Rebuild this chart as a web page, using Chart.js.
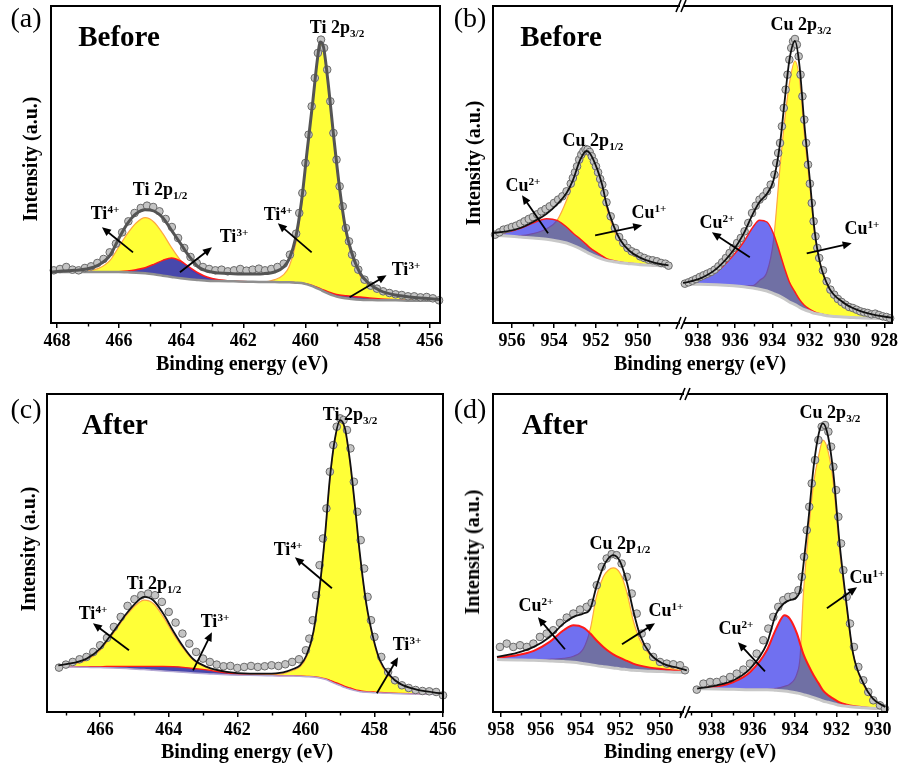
<!DOCTYPE html>
<html>
<head>
<meta charset="utf-8">
<script src="https://cdn.jsdelivr.net/npm/chart.js@4.4.1/dist/chart.umd.min.js"></script>
<style>
  html, body { margin:0; padding:0; background:#fff; }
  body { width:907px; height:769px; position:relative; overflow:hidden; }
  canvas { position:absolute; }
  .t { position:absolute; transform:translate(-50%,-50%); line-height:1; white-space:nowrap;
       font-family:'Liberation Serif','Times New Roman',serif; font-weight:bold; color:#000; font-size:18px; }
  .t sub, .t sup { font-size:0.62em; position:relative; vertical-align:baseline; }
  .t sub { top:0.32em; }
  .t sup { top:-0.5em; }
  .pl { font-weight:normal; font-size:28px; }
  .st { font-size:29px; }
  .ax { font-size:20px; }
  .rot { transform:translate(-50%,-50%) rotate(-90deg); }
</style>
</head>
<body>
<canvas id="ca"></canvas>
<canvas id="cbl"></canvas>
<canvas id="cbr"></canvas>
<canvas id="cc"></canvas>
<canvas id="cdl"></canvas>
<canvas id="cdr"></canvas>

<!-- panel (a) -->
<div class="t pl" style="left:26px;top:18px">(a)</div>
<div class="t st" style="left:119px;top:36px">Before</div>
<div class="t" style="left:337px;top:27px">Ti 2p<sub>3/2</sub></div>
<div class="t" style="left:160px;top:189px">Ti 2p<sub>1/2</sub></div>
<div class="t" style="left:105px;top:213px">Ti<sup>4+</sup></div>
<div class="t" style="left:234px;top:236px">Ti<sup>3+</sup></div>
<div class="t" style="left:278px;top:214px">Ti<sup>4+</sup></div>
<div class="t" style="left:406px;top:269px">Ti<sup>3+</sup></div>
<div class="t ax rot" style="left:30px;top:159px">Intensity (a.u.)</div>
<div class="t ax" style="left:242px;top:363px">Binding energy (eV)</div>

<!-- panel (b) -->
<div class="t pl" style="left:470px;top:18px">(b)</div>
<div class="t st" style="left:561px;top:36px">Before</div>
<div class="t" style="left:801px;top:24px">Cu 2p<sub>3/2</sub></div>
<div class="t" style="left:593px;top:140px">Cu 2p<sub>1/2</sub></div>
<div class="t" style="left:523px;top:185px">Cu<sup>2+</sup></div>
<div class="t" style="left:649px;top:212px">Cu<sup>1+</sup></div>
<div class="t" style="left:717px;top:222px">Cu<sup>2+</sup></div>
<div class="t" style="left:862px;top:228px">Cu<sup>1+</sup></div>
<div class="t ax rot" style="left:473px;top:163px">Intensity (a.u.)</div>
<div class="t ax" style="left:700px;top:363px">Binding energy (eV)</div>

<!-- panel (c) -->
<div class="t pl" style="left:26px;top:409px">(c)</div>
<div class="t st" style="left:115px;top:424px">After</div>
<div class="t" style="left:350px;top:414px">Ti 2p<sub>3/2</sub></div>
<div class="t" style="left:154px;top:583px">Ti 2p<sub>1/2</sub></div>
<div class="t" style="left:93px;top:613px">Ti<sup>4+</sup></div>
<div class="t" style="left:215px;top:621px">Ti<sup>3+</sup></div>
<div class="t" style="left:288px;top:549px">Ti<sup>4+</sup></div>
<div class="t" style="left:407px;top:644px">Ti<sup>3+</sup></div>
<div class="t ax rot" style="left:28px;top:549px">Intensity (a.u.)</div>
<div class="t ax" style="left:247px;top:751px">Binding energy (eV)</div>

<!-- panel (d) -->
<div class="t pl" style="left:470px;top:409px">(d)</div>
<div class="t st" style="left:555px;top:424px">After</div>
<div class="t" style="left:830px;top:412px">Cu 2p<sub>3/2</sub></div>
<div class="t" style="left:620px;top:543px">Cu 2p<sub>1/2</sub></div>
<div class="t" style="left:536px;top:605px">Cu<sup>2+</sup></div>
<div class="t" style="left:666px;top:610px">Cu<sup>1+</sup></div>
<div class="t" style="left:736px;top:628px">Cu<sup>2+</sup></div>
<div class="t" style="left:867px;top:577px">Cu<sup>1+</sup></div>
<div class="t ax rot" style="left:472px;top:552px">Intensity (a.u.)</div>
<div class="t ax" style="left:690px;top:751px">Binding energy (eV)</div>

<script>
// ---------------- DATA (binding energy in eV, intensity in a.u.) ----------------
// (a) Ti 2p, before — fitted curves
const aEnergy = [468.19,467.82,467.43,467.05,466.68,466.29,466.01,465.73,465.45,465.16,464.88,464.59,464.31,464.02,463.74,463.45,463.17,462.79,462.32,461.85,461.36,460.99,460.70,460.52,460.32,460.13,459.95,459.76,459.62,459.52,459.42,459.28,459.09,458.90,458.72,458.52,458.23,457.95,457.57,457.10,456.63,456.15,455.67];
const aBackground = [153,153,153,153,153,153,153,152,151,149,146,142,138,134,131,129,127,126,125,124,123,123,122,122,121,120,116,110,104,100,95,89,82,77,74,72,70,69,68,68,67,67,66];
const aTi4 = [153,153,154,157,163,188,228,268,300,316,303,268,226,188,163,146,135,129,126,124,123,130,145,170,235,350,512,666,785,840,824,723,552,396,280,205,140,112,92,82,77,74,70];
const aTi3 = [153,153,153,153,153,153,154,156,160,166,176,188,195,186,168,150,138,130,126,124,123,123,122,122,121,120,117,112,107,103,99,94,88,84,82,80,78,75,72,70,68,67,66];
const aEnvelope = [153,156,158,162,173,203,253,298,328,340,336,316,278,238,200,168,156,150,148,147,148,153,168,193,253,363,513,668,788,843,828,728,558,403,288,213,148,118,96,84,78,74,70];
// (a) measured points
const aRawEnergy = [468.1,467.9,467.7,467.5,467.3,467.1,466.9,466.7,466.5,466.3,466.1,465.9,465.7,465.5,465.3,465.1,464.9,464.7,464.5,464.3,464.1,463.9,463.7,463.5,463.3,463.1,462.9,462.7,462.5,462.3,462.1,461.9,461.7,461.5,461.3,461.1,460.9,460.7,460.5,460.3,460.2,460.1,460.0,459.9,459.8,459.7,459.6,459.5,459.4,459.3,459.2,459.1,459.0,458.9,458.8,458.7,458.6,458.5,458.4,458.3,458.1,457.9,457.7,457.5,457.3,457.1,456.9,456.7,456.5,456.3,456.1,455.9,455.7];
const aRaw = [158,162,168,160,158,165,170,180,192,212,238,272,305,330,345,352,348,335,312,288,255,225,198,180,168,162,158,160,155,158,162,157,160,163,158,162,168,178,205,268,330,390,480,565,650,735,810,850,825,760,665,570,490,410,350,285,245,205,180,160,130,112,103,95,90,86,84,80,80,77,78,74,68];
const aTicks = [468,466,464,462,460,458,456];
const aMinorTicks = [467,465,463,461,459,457];

// (b) Cu 2p, before: 2p1/2 segment
const bLEnergy = [956.9,956.25,955.6,955.0,954.35,953.85,953.4,953.1,952.75,952.45,952.3,951.95,951.7,951.5,951.15,950.85,950.4,949.9,949.4,948.95,948.55];
const bLBackground = [263,261,258,255,251,246,240,233,223,213,208,198,192,188,184,181,178,175,173,172,171];
const bLCu1 = [263,262,262,268,283,308,368,423,478,506,498,453,403,348,278,240,210,193,183,176,172];
const bLCu2 = [265,272,284,300,313,308,288,270,252,235,226,211,201,193,187,183,179,176,173,172,171];
const bLEnvelope = [270,275,285,303,328,356,390,428,490,516,510,463,413,356,290,250,216,196,184,177,173];
const bLRawEnergy = [956.8,956.6,956.4,956.2,956.0,955.8,955.6,955.4,955.2,955.0,954.8,954.6,954.4,954.2,954.0,953.8,953.6,953.4,953.2,953.1,953.0,952.9,952.8,952.7,952.6,952.5,952.4,952.3,952.2,952.1,952.0,951.9,951.8,951.7,951.6,951.5,951.3,951.1,950.9,950.7,950.5,950.3,950.1,949.9,949.7,949.5,949.3,949.1,948.9,948.7,948.55];
const bLRaw = [265,272,280,283,288,292,298,305,312,318,326,335,342,350,360,370,380,395,418,435,452,470,490,505,515,522,520,513,500,485,470,452,432,415,390,362,320,285,258,240,225,215,210,200,195,190,188,185,180,178,172];
const bLTicks = [956,954,952,950];
const bLMinorTicks = [955,953,951,949];
// (b) 2p3/2 segment
const bREnergy = [938.8,937.9,937.0,936.1,935.55,935.05,934.7,934.3,933.95,933.6,933.35,933.1,932.8,932.55,932.3,932.0,931.75,931.45,930.95,930.25,929.5,928.6,927.65];
const bRBackground = [116,116,115,112,109,105,101,96,88,80,72,63,55,47,40,34,29,26,21,18,16,14,13];
const bRCu1 = [116,116,116,113,111,112,128,153,248,468,608,718,786,728,568,408,268,178,108,63,38,23,15];
const bRCu2 = [118,130,153,203,243,288,308,303,268,208,163,123,93,70,53,41,33,28,22,18,16,14,13];
const bREnvelope = [120,133,163,218,268,328,363,388,428,538,668,788,846,768,598,428,278,178,103,63,40,25,16];
const bRRawEnergy = [938.7,938.5,938.3,938.1,937.9,937.7,937.5,937.3,937.1,936.9,936.7,936.5,936.3,936.1,935.9,935.7,935.5,935.3,935.1,934.9,934.7,934.5,934.3,934.1,933.9,933.8,933.7,933.6,933.5,933.4,933.3,933.2,933.1,933.0,932.9,932.8,932.7,932.6,932.5,932.4,932.3,932.2,932.1,932.0,931.9,931.8,931.7,931.6,931.5,931.3,931.1,930.9,930.7,930.5,930.3,930.1,929.9,929.7,929.5,929.3,929.1,928.9,928.7,928.5,928.3,928.1,927.9,927.7];
const bRRaw = [118,122,127,132,138,143,148,153,160,170,182,195,210,225,240,255,275,300,330,352,370,380,395,415,445,480,510,540,590,645,700,745,790,825,845,852,835,800,745,680,610,540,475,418,360,305,260,225,195,158,125,100,85,72,63,55,48,45,40,35,32,30,26,28,24,20,18,14];
const bRTicks = [938,936,934,932,930,928];
const bRMinorTicks = [937,935,933,931,929];

// (c) Ti 2p, after
const cEnergy = [467.22,466.78,466.39,466.0,465.62,465.23,464.93,464.72,464.45,464.16,463.87,463.57,463.28,462.89,462.31,461.63,461.14,460.66,460.37,460.17,459.98,459.78,459.59,459.44,459.30,459.15,459.0,458.86,458.71,458.57,458.42,458.23,458.03,457.84,457.55,457.26,456.77,456.28,456.0];
const cBackground = [135,135,134,133,132,130,128,127,125,123,121,119,117,115,112,110,109,108,108,107,106,105,102,98,92,85,79,73,68,64,61,59,58,57,56,55,54,53,53];
const cTi4 = [138,143,155,185,235,290,323,335,325,285,235,190,155,133,118,112,111,115,125,135,165,235,375,525,695,815,870,845,745,615,465,315,215,150,105,83,65,57,55];
const cTi3 = [136,136,136,136,137,137,137,137,137,137,136,134,131,126,117,111,110,109,109,108,107,106,103,100,95,89,83,77,72,67,64,61,60,59,57,56,55,54,54];
const cEnvelope = [140,147,160,190,240,295,330,345,335,295,243,195,158,135,120,115,115,119,129,140,170,240,380,530,700,820,875,850,750,620,470,320,220,155,110,85,67,59,55];
const cRawEnergy = [467.2,467.0,466.8,466.6,466.4,466.2,466.0,465.8,465.6,465.4,465.2,465.0,464.8,464.6,464.4,464.2,464.0,463.8,463.6,463.4,463.2,463.0,462.8,462.6,462.4,462.2,462.0,461.8,461.6,461.4,461.2,461.0,460.8,460.6,460.4,460.2,460.0,459.9,459.8,459.7,459.6,459.5,459.4,459.3,459.2,459.1,459.0,458.9,458.8,458.7,458.6,458.5,458.4,458.3,458.2,458.1,458.0,457.8,457.6,457.4,457.2,457.0,456.8,456.6,456.4,456.2,456.0];
const cRaw = [133,142,150,158,165,180,200,222,255,285,318,338,350,355,350,330,300,268,235,205,180,160,150,142,137,138,132,135,138,135,137,140,138,143,150,158,185,220,275,350,440,520,610,720,800,855,880,875,845,790,690,600,515,430,345,275,225,165,120,95,80,72,66,63,62,60,50];
const cTicks = [466,464,462,460,458,456];
const cMinorTicks = [467,465,463,461,459,457];

// (d) Cu 2p, after: 2p1/2 segment
const dLEnergy = [958.2,957.2,956.35,955.55,954.85,954.35,953.85,953.5,953.2,952.85,952.6,952.35,952.0,951.65,951.35,951.0,950.5,949.85,949.15,948.65];
const dLBackground = [157,156,155,153,151,149,145,142,139,136,134,132,129,127,125,124,122,121,119,118];
const dLCu1 = [157,157,157,158,161,167,190,250,345,405,425,432,415,355,275,215,170,140,127,121];
const dLCu2 = [163,170,183,210,245,260,253,235,215,195,183,173,162,153,145,139,133,128,123,119];
const dLEnvelope = [165,177,195,225,265,285,295,310,375,435,460,470,450,385,305,230,175,145,133,125];
const dLRawEnergy = [958.05,957.71,957.38,957.04,956.70,956.37,956.04,955.70,955.37,955.03,954.69,954.36,954.02,953.69,953.44,953.18,952.93,952.68,952.43,952.18,951.93,951.67,951.42,951.17,950.92,950.67,950.34,950.0,949.66,949.33,948.99,948.74];
const dLRaw = [195,205,195,200,195,205,225,235,245,267,283,295,307,315,327,380,435,460,473,470,445,405,355,295,235,195,165,150,145,143,140,125];
const dLTicks = [958,956,954,952,950];
const dLMinorTicks = [957,955,953,951,949];
// (d) 2p3/2 segment
const dREnergy = [938.7,937.75,936.95,936.15,935.35,934.9,934.5,934.25,933.9,933.75,933.6,933.35,933.1,932.85,932.65,932.4,932.15,931.85,931.5,931.2,930.7,930.25,929.65];
const dRBackground = [70,69,68,67,67,65,63,61,57,55,52,48,43,38,33,29,25,20,17,15,13,11,10];
const dRCu1 = [70,69,69,69,69,71,77,83,115,165,345,535,685,770,815,780,685,485,305,175,80,37,15];
const dRCu2 = [70,77,90,120,185,250,290,280,235,205,175,140,110,85,65,50,40,29,22,18,14,11,10];
const dREnvelope = [70,80,95,130,205,295,327,335,345,365,435,575,735,835,865,825,715,505,315,175,85,40,15];
const dRRawEnergy = [938.72,938.40,938.08,937.76,937.44,937.12,936.80,936.48,936.16,935.84,935.52,935.28,935.04,934.80,934.56,934.32,934.08,933.83,933.67,933.56,933.43,933.31,933.19,933.03,932.87,932.71,932.55,932.39,932.26,932.15,932.02,931.91,931.78,931.67,931.51,931.35,931.16,930.95,930.71,930.47,930.23,929.91,929.67];
const dRRaw = [67,85,90,90,97,105,115,127,145,175,215,250,285,315,335,345,347,365,405,465,545,615,685,755,815,855,860,840,795,735,665,585,505,425,345,265,195,135,95,60,35,20,10];
const dRTicks = [938,936,934,932,930];
const dRMinorTicks = [939,937,935,933,931];

// annotation arrows [fromE, fromI, toE, toI]
const aArrows = [[465.55,212,466.55,287],[464.04,152,463.01,227],[459.80,212,460.89,299],[458.58,77,457.39,143]];
const bLArrows = [[954.28,269,955.52,383],[952.04,263,949.80,293]];
const bRArrows = [[935.22,197,937.25,272],[932.17,209,929.76,239]];
const cArrows = [[465.16,185,466.21,266],[463.29,125,462.74,239],[459.24,371,460.32,464],[457.93,56,457.31,164]];
const dLArrows = [[954.78,188,956.14,284],[951.91,203,950.25,266]];
const dRArrows = [[935.44,122,936.74,209],[932.46,311,931.01,374]];

// ---------------- RENDERING ----------------
const FONT = "'Liberation Serif','Times New Roman',serif";
const YELLOW = 'rgba(255,255,40,0.93)';
const BLUE_CU = 'rgba(25,25,230,0.62)';
const BLUE_TI = 'rgba(20,20,205,0.78)';

function decoPlugin(cfg) {
  return {
    id: 'deco',
    afterDraw(chart) {
      const { ctx, chartArea: ca, scales } = chart;
      const x = scales.x, y = scales.y;
      ctx.save();
      ctx.strokeStyle = '#000'; ctx.lineWidth = 2; ctx.lineCap = 'square';
      ctx.beginPath();
      if (cfg.sides.includes('t')) { ctx.moveTo(ca.left, ca.top); ctx.lineTo(ca.right, ca.top); }
      if (cfg.sides.includes('b')) { ctx.moveTo(ca.left, ca.bottom); ctx.lineTo(ca.right, ca.bottom); }
      if (cfg.sides.includes('l')) { ctx.moveTo(ca.left, ca.top); ctx.lineTo(ca.left, ca.bottom); }
      if (cfg.sides.includes('r')) { ctx.moveTo(ca.right, ca.top); ctx.lineTo(ca.right, ca.bottom); }
      ctx.stroke();
      ctx.lineWidth = 1.4; ctx.lineCap = 'butt';
      ctx.beginPath();
      cfg.minors.forEach(v => {
        const px = Math.round(x.getPixelForValue(v)) + 0.5;
        ctx.moveTo(px, ca.bottom); ctx.lineTo(px, ca.bottom + 3.5);
      });
      ctx.stroke();
      ctx.fillStyle = '#000'; ctx.strokeStyle = '#000'; ctx.lineWidth = 1.8;
      cfg.arrows.forEach(a => {
        const x0 = x.getPixelForValue(a[0]), y0 = y.getPixelForValue(a[1]);
        const x1 = x.getPixelForValue(a[2]), y1 = y.getPixelForValue(a[3]);
        const ang = Math.atan2(y1 - y0, x1 - x0), L = 9, W = 4;
        const c = Math.cos(ang), s = Math.sin(ang);
        ctx.beginPath(); ctx.moveTo(x0, y0); ctx.lineTo(x1 - L * 0.7 * c, y1 - L * 0.7 * s); ctx.stroke();
        ctx.beginPath();
        ctx.moveTo(x1, y1);
        ctx.lineTo(x1 - L * c + W * s, y1 - L * s - W * c);
        ctx.lineTo(x1 - L * c - W * s, y1 - L * s + W * c);
        ctx.closePath(); ctx.fill();
      });
      if (cfg.breakMark) {
        const bx = ca.left;
        [ca.top, ca.bottom].forEach(yy => {
          ctx.fillStyle = '#fff';
          ctx.fillRect(bx - 3, yy - 1.6, 3.5, 3.2);
          ctx.strokeStyle = '#000'; ctx.lineWidth = 1.6;
          ctx.beginPath();
          ctx.moveTo(bx - 7, yy + 6); ctx.lineTo(bx - 2, yy - 6);
          ctx.moveTo(bx - 2, yy + 6); ctx.lineTo(bx + 3, yy - 6);
          ctx.stroke();
        });
      }
      ctx.restore();
    }
  };
}

function makePanel(p) {
  const cv = document.getElementById(p.id);
  const [l, t, r, b] = p.box;
  const PADX = 20, PADT = 10, AXH = 34;
  const w = r - l + 2 * PADX, h = b - t + PADT + AXH;
  cv.width = w; cv.height = h;
  cv.style.left = (l - PADX) + 'px'; cv.style.top = (t - PADT) + 'px';
  cv.style.width = w + 'px'; cv.style.height = h + 'px';
  const pts = ys => p.energy.map((e, i) => ({ x: e, y: ys[i] }));
  const rawPts = p.rawEnergy.map((e, i) => ({ x: e, y: p.raw[i] }));
  const datasets = [
    { label: 'Background', data: pts(p.bg), borderColor: p.bgColor, borderWidth: p.bgWidth, pointRadius: 0, fill: false, order: 3 },
    { label: p.n1, data: pts(p.c1), borderColor: '#ffa640', borderWidth: 1.2, backgroundColor: YELLOW, fill: { target: 0 }, pointRadius: 0, order: 5 },
    { label: p.n2, data: pts(p.c2), borderColor: '#ff1a1a', borderWidth: p.redWidth, backgroundColor: p.blue, fill: { target: 0 }, pointRadius: 0, order: 4 },
    { label: 'Raw data', data: rawPts, showLine: false, pointRadius: 3.8, pointBackgroundColor: '#c4c4c4', pointBorderColor: '#6a6a6a', pointBorderWidth: 1, order: 2, clip: 6 },
    { label: 'Fitted', data: pts(p.env), borderColor: p.envColor, borderWidth: p.envWidth, pointRadius: 0, fill: false, order: 1 }
  ];
  return new Chart(cv, {
    type: 'line',
    data: { datasets },
    options: {
      responsive: false, animation: false, devicePixelRatio: 1,
      layout: { padding: { left: PADX, right: PADX, top: PADT, bottom: 0 } },
      elements: { line: { cubicInterpolationMode: 'monotone' } },
      plugins: { legend: { display: false }, tooltip: { enabled: false } },
      scales: {
        x: {
          type: 'linear', reverse: true, min: p.range[0], max: p.range[1],
          afterBuildTicks: s => { s.ticks = p.majors.map(v => ({ value: v })); },
          afterFit: s => { s.height = AXH; },
          ticks: { callback: v => String(v), color: '#000', padding: 3, maxRotation: 0, autoSkip: false,
                   font: { family: FONT, size: 18, weight: 'bold' } },
          grid: { drawOnChartArea: false, drawTicks: true, tickLength: 5, color: '#000', lineWidth: 1.5 },
          border: { display: false }
        },
        y: { display: false, min: 0, max: p.ymax }
      }
    },
    plugins: [decoPlugin({ sides: p.sides, minors: p.minors, arrows: p.arrows, breakMark: p.breakMark })]
  });
}

const TI = { n1: 'Ti4+', n2: 'Ti3+' }, CU = { n1: 'Cu1+', n2: 'Cu2+' };
const panels = [
  Object.assign({ id: 'ca', box: [51, 6, 440, 323], range: [455.67, 468.19], ymax: 951, majors: aTicks, minors: aMinorTicks,
    energy: aEnergy, bg: aBackground, c1: aTi4, c2: aTi3, env: aEnvelope, rawEnergy: aRawEnergy, raw: aRaw, arrows: aArrows, sides: 'ltrb',
    envColor: '#545454', envWidth: 3, bgColor: '#8f8f8f', bgWidth: 2.5, redWidth: 1.5, blue: BLUE_TI }, TI),
  Object.assign({ id: 'cbl', box: [493, 6, 683, 323], range: [947.86, 956.9], ymax: 951, majors: bLTicks, minors: bLMinorTicks,
    energy: bLEnergy, bg: bLBackground, c1: bLCu1, c2: bLCu2, env: bLEnvelope, rawEnergy: bLRawEnergy, raw: bLRaw, arrows: bLArrows, sides: 'ltb',
    envColor: '#111', envWidth: 1.8, bgColor: '#c8c8c8', bgWidth: 3, redWidth: 1.5, blue: BLUE_CU }, CU),
  Object.assign({ id: 'cbr', box: [683, 6, 892, 323], range: [927.6, 938.8], ymax: 951, majors: bRTicks, minors: bRMinorTicks,
    energy: bREnergy, bg: bRBackground, c1: bRCu1, c2: bRCu2, env: bREnvelope, rawEnergy: bRRawEnergy, raw: bRRaw, arrows: bRArrows, sides: 'trb', breakMark: true,
    envColor: '#111', envWidth: 1.8, bgColor: '#c8c8c8', bgWidth: 3, redWidth: 1.5, blue: BLUE_CU }, CU),
  Object.assign({ id: 'cc', box: [47, 394, 443, 712], range: [456.0, 467.55], ymax: 953, majors: cTicks, minors: cMinorTicks,
    energy: cEnergy, bg: cBackground, c1: cTi4, c2: cTi3, env: cEnvelope, rawEnergy: cRawEnergy, raw: cRaw, arrows: cArrows, sides: 'ltrb',
    envColor: '#111', envWidth: 1.8, bgColor: '#b4a8d4', bgWidth: 1.5, redWidth: 1.3, blue: BLUE_TI }, TI),
  Object.assign({ id: 'cdl', box: [493, 394, 687, 712], range: [948.64, 958.4], ymax: 953, majors: dLTicks, minors: dLMinorTicks,
    energy: dLEnergy, bg: dLBackground, c1: dLCu1, c2: dLCu2, env: dLEnvelope, rawEnergy: dLRawEnergy, raw: dLRaw, arrows: dLArrows, sides: 'ltb',
    envColor: '#111', envWidth: 1.8, bgColor: '#c8c8c8', bgWidth: 3, redWidth: 2, blue: BLUE_CU }, CU),
  Object.assign({ id: 'cdr', box: [687, 394, 887, 712], range: [929.57, 939.19], ymax: 953, majors: dRTicks, minors: dRMinorTicks,
    energy: dREnergy, bg: dRBackground, c1: dRCu1, c2: dRCu2, env: dREnvelope, rawEnergy: dRRawEnergy, raw: dRRaw, arrows: dRArrows, sides: 'trb', breakMark: true,
    envColor: '#111', envWidth: 1.8, bgColor: '#c8c8c8', bgWidth: 3, redWidth: 2, blue: BLUE_CU }, CU)
];
panels.forEach(makePanel);
</script>
</body>
</html>
